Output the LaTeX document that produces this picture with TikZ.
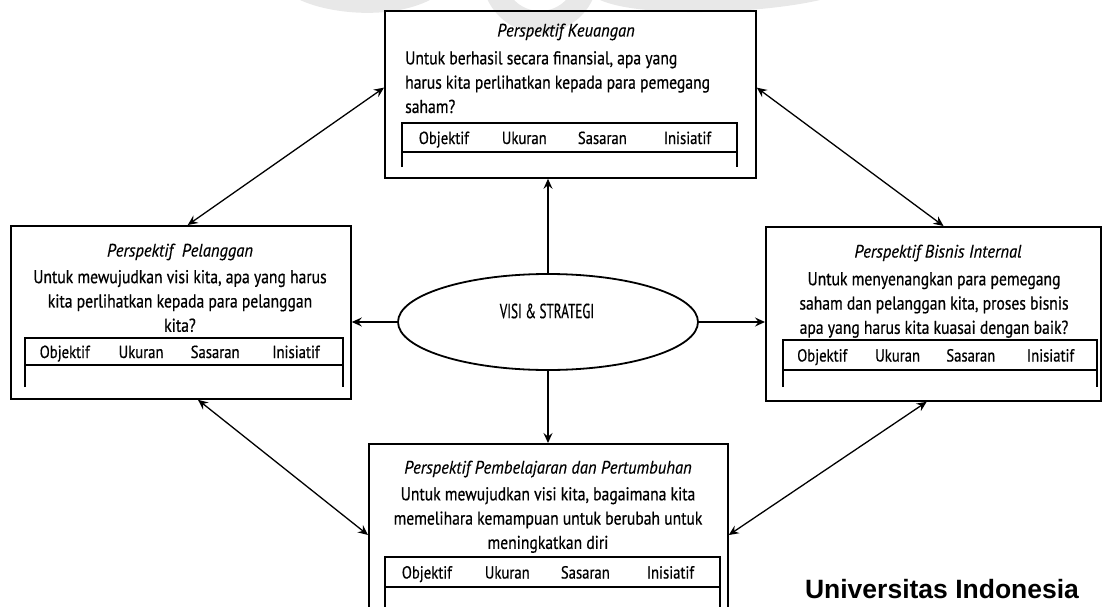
\documentclass[tikz,border=0pt]{standalone}
\usepackage{fontspec}
\setmainfont{PT Sans}[FakeStretch=0.84, FakeBold=0.6]
\newfontfamily\titlefont{PT Sans}[FakeStretch=0.92, FakeBold=0.4]
\newfontfamily\capsfont{PT Sans}[FakeStretch=0.64, FakeBold=0.5]
\newfontfamily\uifont{Liberation Sans}
\usetikzlibrary{arrows.meta,shapes.geometric,calc}

\tikzset{
  panel/.style={draw, line width=1.8pt, anchor=north west, inner sep=0pt},
  ttl/.style={font=\titlefont\fontsize{18}{20}\selectfont\itshape, inner sep=0pt},
  body/.style={font=\fontsize{18.6}{24.3}\selectfont, inner sep=0pt},
  hdr/.style={font=\fontsize{17.5}{20}\selectfont, inner sep=0pt, anchor=base},
  tblline/.style={line width=1.4pt},
  arr/.style={line width=1.3pt, -{Stealth[length=10pt,width=9pt,inset=3.5pt]}},
  biarr/.style={line width=1.3pt, {Stealth[length=10pt,width=9pt,inset=3.5pt]}-{Stealth[length=10pt,width=9pt,inset=3.5pt]}}
}

% measure table: prefix, left x, top y, width, header height, total height
\newcommand{\kpitable}[6]{%
  \draw[tblline] ({#2},{#3+#6}) -- ({#2},{#3}) -- ({#2+#4},{#3}) -- ({#2+#4},{#3+#6});
  \draw[tblline] ({#2},{#3+#5}) -- ({#2+#4},{#3+#5});
  \node[hdr] (#1-obj) at ({#2+0.125*#4},{#3+#5/2+6.5}) {Objektif};
  \node[hdr] (#1-uk)  at ({#2+0.365*#4},{#3+#5/2+6.5}) {Ukuran};
  \node[hdr] (#1-sas) at ({#2+0.598*#4},{#3+#5/2+6.5}) {Sasaran};
  \node[hdr] (#1-ini) at ({#2+0.852*#4},{#3+#5/2+6.5}) {Inisiatif};
}

\begin{document}
\begin{tikzpicture}[x=1pt,y=-1pt]
\useasboundingbox (0,0) rectangle (1105,607);

% faint logo watermark behind the top panel
\fill[black!9] (300,0) .. controls (330,14) and (390,20) .. (430,0) -- cycle;
\fill[black!9, even odd rule] (540,-25) circle[radius=58] (540,-25) circle[radius=36];
\fill[black!9] (600,0) .. controls (640,18) and (760,14) .. (820,0) -- cycle;

% financial perspective
\node[panel, minimum width=371pt, minimum height=167pt] (fin) at (384,10) {};
\node[ttl] (finT) at (566,32) {Perspektif Keuangan};
\node[body, align=left, anchor=north west] (finB) at (405,51)
  {Untuk berhasil secara finansial, apa yang\\harus kita perlihatkan kepada para pemegang\\saham?};
\kpitable{fin}{402}{123}{335}{29}{44}

% customer perspective
\node[panel, minimum width=340pt, minimum height=173pt] (cust) at (10,225) {};
\node[ttl] (custT) at (180,252) {Perspektif \ Pelanggan};
\node[body, align=center] (custB) at (180,301)
  {Untuk mewujudkan visi kita, apa yang harus\\kita perlihatkan kepada para pelanggan\\kita?};
\kpitable{cust}{25}{338}{318}{27}{49}

% internal business perspective
\node[panel, minimum width=335pt, minimum height=174pt] (intl) at (765,226) {};
\node[ttl] (intlT) at (938,253) {Perspektif Bisnis Internal};
\node[body, align=center] (intlB) at (934,305)
  {Untuk menyenangkan para pemegang\\saham dan pelanggan kita, proses bisnis\\apa yang harus kita kuasai dengan baik?};
\kpitable{intl}{783}{340}{314}{30}{47}

% learning and growth perspective
\node[panel, minimum width=359pt, minimum height=172pt] (learn) at (368,443) {};
\node[ttl] (learnT) at (548,469) {Perspektif Pembelajaran dan Pertumbuhan};
\node[body, align=center] (learnB) at (548,520)
  {Untuk mewujudkan visi kita, bagaimana kita\\memelihara kemampuan untuk berubah untuk\\meningkatkan diri};
\kpitable{learn}{385}{557}{335}{30}{60}

% vision and strategy
\node[draw, ellipse, line width=1.8pt, minimum width=300pt, minimum height=96pt] (vision) at (548,322) {};
\node[font=\capsfont\fontsize{20.5}{24}\selectfont, inner sep=0pt] (visionT) at (547,311) {VISI \& STRATEGI};

% links from the centre
\draw[arr] (vision.north) -- (vision.north |- fin.south);
\draw[arr] (vision.south) -- (vision.south |- learn.north);
\draw[arr] (vision.west) -- (vision.west -| cust.east);
\draw[arr] (vision.east) -- (vision.east -| intl.west);

% links between perspectives
\draw[biarr] ($(fin.north west)!0.46!(fin.south west)$) -- ($(cust.north west)!0.52!(cust.north east)$);
\draw[biarr] ($(fin.north east)!0.46!(fin.south east)$) -- ($(intl.north west)!0.53!(intl.north east)$);
\draw[biarr] ($(cust.south west)!0.55!(cust.south east)$) -- ($(learn.north west)+(0,92)$);
\draw[biarr] ($(intl.south west)!0.48!(intl.south east)$) -- ($(learn.north east)+(0,92)$);

\node[font=\uifont\bfseries\fontsize{26.5}{28}\selectfont, inner sep=0pt] (uni) at (942,589) {Universitas Indonesia};
\end{tikzpicture}
\end{document}
